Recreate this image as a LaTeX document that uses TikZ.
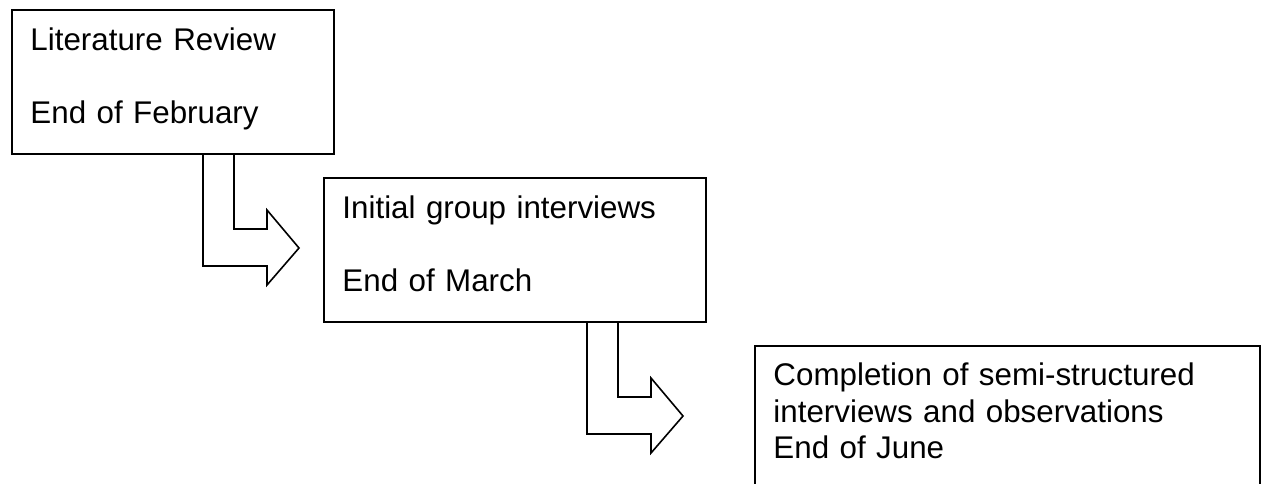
\documentclass[tikz,border=0pt]{standalone}
\usepackage{fontspec}
\setmainfont{Liberation Sans}

% bent arrow hanging from a box edge
\newcommand{\bentarrow}[1]{%
	\draw[bentline] (#1) -- ++(0,113) -- ++(64,0) -- ++(0,19) -- ++(32,-37)
		-- ++(-32,-38) -- ++(0,19) -- ++(-33,0) -- ++(0,-76);}

\begin{document}
\begin{tikzpicture}[x=0.75pt,y=-0.75pt,
	stagebox/.style = {draw, line width=1.2pt, anchor=north west, align=left,
		inner xsep=14pt, inner ysep=14pt, text height=16.8pt, text depth=63.2pt,
		font=\fontsize{23.5}{27.5}\selectfont},
	bentline/.style = {line width=1.2pt, line join=miter}]
	\useasboundingbox (0,0) rectangle (1266,483);
	\clip (0,0) rectangle (1266,483);
	\node[stagebox,text width=213.5pt] at (11,9) (lit) {Literature Review\\[27pt]End of February};
	\node[stagebox,text width=258.5pt] at (323,177) (grp) {Initial group interviews\\[27pt]End of March};
	\node[stagebox,text width=350.75pt,inner ysep=13pt,text depth=120pt] at (754,345) (semi)
		{Completion of semi-structured\\interviews and observations\\End of June};
	\coordinate (t1) at (203,153);
	\coordinate (t2) at (587,321);
	\bentarrow{t1}
	\bentarrow{t2}
\end{tikzpicture}
\end{document}
